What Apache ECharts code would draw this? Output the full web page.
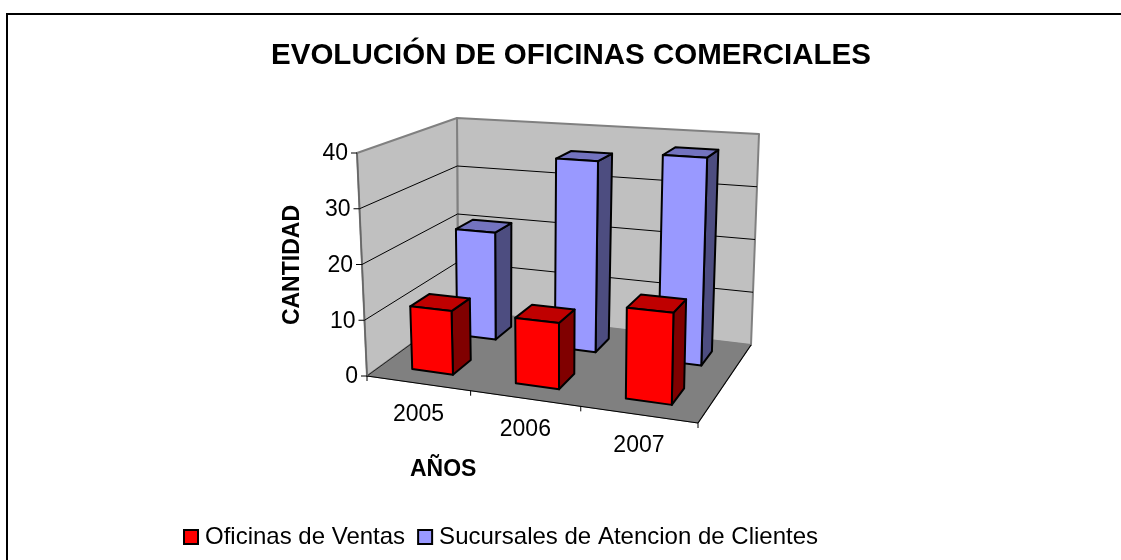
<!DOCTYPE html>
<html>
<head>
<meta charset="utf-8">
<style>
  html, body { margin: 0; padding: 0; background: #fff; }
  #chart { width: 1121px; height: 560px; }
</style>
<script src="https://cdn.jsdelivr.net/npm/echarts@6/dist/echarts.min.js"></script>
</head>
<body>
<div id="chart"></div>
<script>
const years = ['2005', '2006', '2007'];
const ventas = [11.4, 11.5, 15.4];
const sucursales = [20.7, 35.8, 37.7];
const yTicks = [0, 10, 20, 30, 40];

const FONT = '"Liberation Sans", Arial, sans-serif';
const gridBox = { left: 367, top: 153, width: 331, height: 223 };

// screen position of the box corners, used for the fake 3d perspective
const floorQuad = [[367, 376], [698, 423], [751, 345], [458, 310]];
const topQuad = [[357, 153], [703, 175], [759, 134], [457, 118]];

// unit square -> quad
function homography(q) {
  const dx1 = q[1][0] - q[2][0], dx2 = q[3][0] - q[2][0], sx = q[0][0] - q[1][0] + q[2][0] - q[3][0];
  const dy1 = q[1][1] - q[2][1], dy2 = q[3][1] - q[2][1], sy = q[0][1] - q[1][1] + q[2][1] - q[3][1];
  const den = dx1 * dy2 - dx2 * dy1;
  const g = (sx * dy2 - dx2 * sy) / den;
  const h = (dx1 * sy - sx * dy1) / den;
  const a = q[1][0] - q[0][0] + g * q[1][0], b = q[3][0] - q[0][0] + h * q[3][0];
  const d = q[1][1] - q[0][1] + g * q[1][1], e = q[3][1] - q[0][1] + h * q[3][1];
  return (u, v) => {
    const w = g * u + h * v + 1;
    return [(a * u + b * v + q[0][0]) / w, (d * u + e * v + q[0][1]) / w];
  };
}
const floorH = homography(floorQuad);
const topH = homography(topQuad);

// u across the categories, d into the depth, t up the value axis (all 0..1)
function project(u, d, t) {
  const p0 = floorH(u, d), p1 = topH(u, d);
  return [p0[0] + (p1[0] - p0[0]) * t, p0[1] + (p1[1] - p0[1]) * t];
}
// read the fractions through the chart's own axes
function uOf(api, i, off) {
  const band = api.size([1, 0])[0];
  return (api.coord([i, 0])[0] + off * band - gridBox.left) / gridBox.width;
}
function tOf(api, v) {
  return (gridBox.top + gridBox.height - api.coord([0, v])[1]) / gridBox.height;
}

function face(points, fill, stroke, lineWidth) {
  return { type: 'polygon', shape: { points }, style: { fill, stroke, lineWidth, lineJoin: 'round' } };
}
function line(a, b, stroke, lineWidth) {
  return { type: 'line', shape: { x1: a[0], y1: a[1], x2: b[0], y2: b[1] }, style: { stroke, lineWidth } };
}
function label(text, x, y, align, font) {
  return { type: 'text', style: { text, x, y, align, verticalAlign: 'middle', fill: '#000', font } };
}

function renderBox(params, api) {
  const tTop = tOf(api, 40);
  const kids = [
    face([project(0, 1, 0), project(1, 1, 0), project(1, 1, tTop), project(0, 1, tTop)], '#c0c0c0', '#808080', 2),
    face([project(0, 0, 0), project(0, 1, 0), project(0, 1, tTop), project(0, 0, tTop)], '#c0c0c0', '#808080', 2),
    face([project(0, 0, 0), project(1, 0, 0), project(1, 1, 0), project(0, 1, 0)], '#808080', '#808080', 1),
    line(project(0, 0, 0), project(1, 0, 0), '#000', 1.2),
    line(project(1, 0, 0), project(1, 1, 0), '#000', 1.2),
    line(project(0, 0, 0), project(0, 1, 0), '#222', 1),
    line(project(0, 0, 0), project(0, 0, tTop), '#666', 1.5)
  ];
  yTicks.forEach((v) => {
    const t = tOf(api, v);
    const a = project(0, 0, t);
    if (v > 0 && v < 40) {
      kids.push(line(a, project(0, 1, t), '#000', 1));
      kids.push(line(project(0, 1, t), project(1, 1, t), '#000', 1));
    }
    kids.push(line([a[0] - 6, a[1]], a, '#000', 1));
    kids.push(label(String(v), a[0] - 9, a[1] + 1, 'right', '23px ' + FONT));
  });
  years.forEach((y, i) => {
    const a = project(uOf(api, i, -0.5), 0, 0);
    kids.push(line(a, [a[0], a[1] + 5], '#000', 1));
    const c = project(uOf(api, i, 0), 0, 0);
    kids.push(label(y, c[0] + 0.5, c[1] + 31, 'center', '23px ' + FONT));
  });
  const e = project(1, 0, 0);
  kids.push(line(e, [e[0], e[1] + 5], '#000', 1));
  return { type: 'group', children: kids };
}

function barRenderer(dFront, dBack, colors) {
  return function (params, api) {
    const i = api.value(0);
    const u0 = uOf(api, i, -0.2), u1 = uOf(api, i, 0.2);
    const t = tOf(api, api.value(1));
    return {
      type: 'group',
      children: [
        face([project(u1, dFront, 0), project(u1, dBack, 0), project(u1, dBack, t), project(u1, dFront, t)], colors[2], '#000', 2),
        face([project(u0, dFront, t), project(u1, dFront, t), project(u1, dBack, t), project(u0, dBack, t)], colors[1], '#000', 2),
        face([project(u0, dFront, 0), project(u1, dFront, 0), project(u1, dFront, t), project(u0, dFront, t)], colors[0], '#000', 2)
      ]
    };
  };
}

const chart = echarts.init(document.getElementById('chart'));
chart.setOption({
  animation: false,
  backgroundColor: '#fff',
  title: {
    text: 'EVOLUCIÓN DE OFICINAS COMERCIALES',
    left: 566,
    top: 36,
    textAlign: 'center',
    textStyle: { fontFamily: FONT, fontSize: 29.5, fontWeight: 'bold', color: '#000' }
  },
  legend: {
    left: 183,
    top: 525,
    padding: 0,
    itemWidth: 14,
    itemHeight: 14,
    itemGap: 12,
    icon: 'rect',
    data: ['Oficinas de Ventas', 'Sucursales de Atencion de Clientes'],
    textStyle: { fontFamily: FONT, fontSize: 24, color: '#000', padding: [0, 0, 0, 2] }
  },
  grid: gridBox,
  xAxis: { type: 'category', data: years, show: false },
  yAxis: { type: 'value', min: 0, max: 40, interval: 10, show: false },
  graphic: [
    {
      type: 'rect',
      shape: { x: 7, y: 14, width: 1300, height: 700 },
      style: { fill: 'transparent', stroke: '#000', lineWidth: 2 },
      silent: true
    },
    {
      type: 'text',
      left: 281,
      top: 205,
      rotation: Math.PI / 2,
      style: { text: 'CANTIDAD', font: 'bold 23px ' + FONT, fill: '#000' },
      silent: true
    },
    {
      type: 'text',
      left: 410,
      top: 458,
      style: { text: 'AÑOS', font: 'bold 23px ' + FONT, fill: '#000' },
      silent: true
    }
  ],
  series: [
    {
      type: 'custom',
      name: 'caja',
      coordinateSystem: 'cartesian2d',
      renderItem: renderBox,
      data: [[0, 0]],
      clip: false,
      silent: true
    },
    {
      type: 'custom',
      name: 'Sucursales de Atencion de Clientes',
      coordinateSystem: 'cartesian2d',
      renderItem: barRenderer(0.65, 0.85, ['#9999ff', '#7373bf', '#4d4d80']),
      data: years.map((y, i) => [i, sucursales[i]]),
      itemStyle: { color: '#9999ff', borderColor: '#000', borderWidth: 1.5 },
      clip: false,
      silent: true
    },
    {
      type: 'custom',
      name: 'Oficinas de Ventas',
      coordinateSystem: 'cartesian2d',
      renderItem: barRenderer(0.15, 0.35, ['#ff0000', '#bf0000', '#800000']),
      data: years.map((y, i) => [i, ventas[i]]),
      itemStyle: { color: '#ff0000', borderColor: '#000', borderWidth: 1.5 },
      clip: false,
      silent: true
    }
  ]
});
</script>
</body>
</html>
